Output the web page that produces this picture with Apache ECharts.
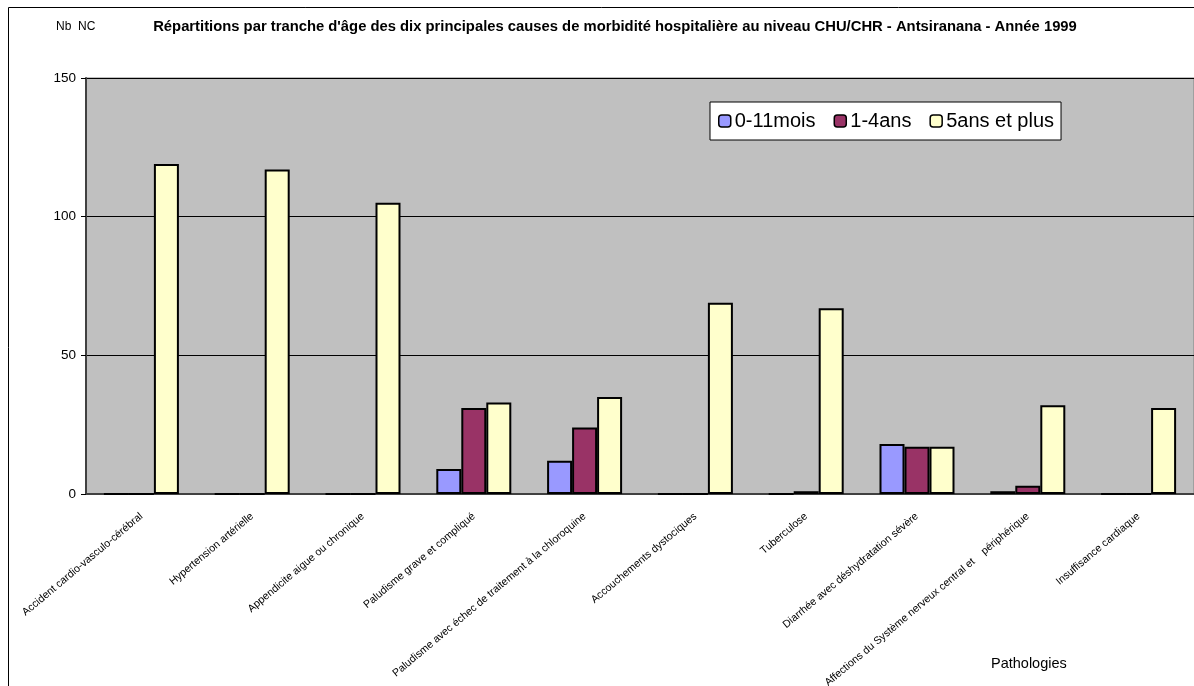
<!DOCTYPE html>
<html><head><meta charset="utf-8">
<script src="https://cdn.jsdelivr.net/npm/echarts@6/dist/echarts.min.js"></script>
<style>html,body{margin:0;padding:0;background:#fff}#c{width:1194px;height:686px}</style>
</head><body><div id="c"></div>
<script>
const categories = ["Accident cardio-vasculo-cérébral","Hypertension artérielle","Appendicite aigue ou chronique","Paludisme grave et compliqué","Paludisme avec échec de traitement à la chloroquine","Accouchements dystociques","Tuberculose","Diarrhée avec déshydratation sévère","Affections du Système nerveux central et    périphérique","Insuffisance cardiaque"];
const seriesNames = ["0-11mois","1-4ans","5ans et plus"];
const infants = [0,0,0,9,12,0,0,18,1,0];
const children = [0,0,0,31,24,0,1,17,3,0];
const adults = [119,117,105,33,35,69,67,17,32,31];
const yTicks = [0,50,100,150];

const colors = ['#9999FF','#993366','#FFFFCC'];
const font = 'Arial, "Liberation Sans", sans-serif';
const chart = echarts.init(document.getElementById('c'), null, {renderer:'canvas'});
const mk = (name, data, i) => ({
  name, type:'bar', data, barWidth:25, barGap:'0%',
  itemStyle:{color:colors[i], borderColor:'#000', borderWidth:2},
  animation:false
});
chart.setOption({
  animation:false,
  textStyle:{fontFamily:font},
  title:[
    {text:"Répartitions par tranche d'âge des dix principales causes de morbidité hospitalière au niveau CHU/CHR - Antsiranana - Année 1999", left:610, textAlign:'center', top:14, textStyle:{fontSize:14.8, fontWeight:'bold', color:'#000', fontFamily:font}},
    {text:'Nb  NC', left:51, top:16, textStyle:{fontSize:12, fontWeight:'normal', color:'#000', fontFamily:font}},
    {text:'Pathologies', left:986, top:651, textStyle:{fontSize:14.5, fontWeight:'normal', color:'#000', fontFamily:font}}
  ],
  legend:{
    data:seriesNames.map(n=>({name:n})), left:710, top:102,
    itemWidth:12, itemHeight:12, itemGap:18, padding:[9,7,9,8],
    backgroundColor:'#fff', borderColor:'#000', borderWidth:1, borderRadius:0,
    textStyle:{fontSize:20, color:'#000', fontFamily:font, padding:[0,0,0,-1]},
    itemStyle:{borderColor:'#000', borderWidth:1.5}
  },
  grid:{left:86, right:0, top:78, bottom:192, show:true, backgroundColor:'#C0C0C0', borderColor:'#808080', borderWidth:1, containLabel:false, outerBoundsMode:'none'},
  xAxis:{
    type:'category', data:categories,
    axisLine:{lineStyle:{color:'#404040', width:2}},
    axisTick:{show:false},
    axisLabel:{rotate:40, interval:0, fontSize:10.6, color:'#000', fontFamily:font, margin:21}
  },
  yAxis:{
    type:'value', min:yTicks[0], max:yTicks[yTicks.length-1], interval:50,
    axisLine:{show:true, lineStyle:{color:'#404040', width:2}},
    axisTick:{show:true, length:5, lineStyle:{color:'#000'}},
    axisLabel:{fontSize:13.5, color:'#000', fontFamily:font, margin:10},
    splitLine:{show:true, lineStyle:{color:'#000', width:1}}
  },
  series:[mk(seriesNames[0], infants, 0), mk(seriesNames[1], children, 1), mk(seriesNames[2], adults, 2)],
  graphic:[{type:'rect', shape:{x:8.5, y:7.5, width:1200, height:700}, style:{fill:'none', stroke:'#000', lineWidth:1}, silent:true, z:-1}]
});
</script></body></html>
